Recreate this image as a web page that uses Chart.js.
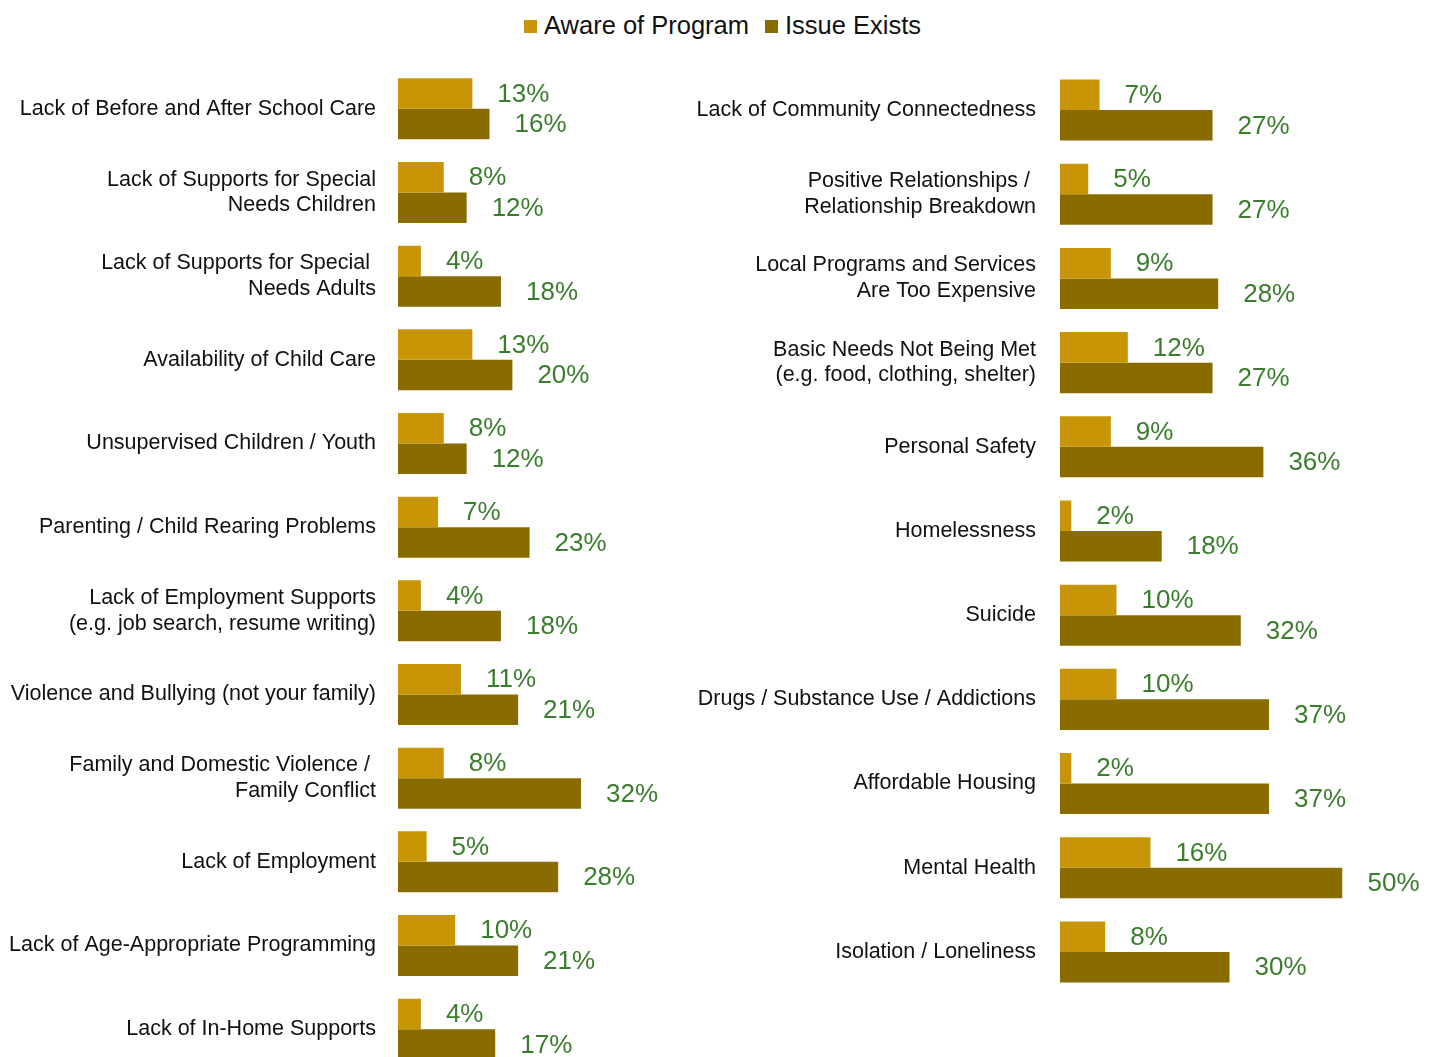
<!DOCTYPE html>
<html>
<head>
<meta charset="utf-8">
<script src="https://cdn.jsdelivr.net/npm/chart.js@4.4.1/dist/chart.umd.min.js"></script>
<style>
  html, body { margin: 0; padding: 0; background: #ffffff; overflow: hidden; width: 1436px; height: 1057px; }
  #legend { position: absolute; top: 9px; left: 0; width: 1436px; height: 34px; font-family: "Liberation Sans", Arial, sans-serif; font-size: 25.5px; color: #111; }
  .lg { position: absolute; top: 0; line-height: 32px; white-space: nowrap; }
  .sw { display: inline-block; width: 13px; height: 13px; margin-right: 7px; vertical-align: 1px; }
  #leftWrap { position: absolute; left: 0; top: 0; }
  #rightWrap { position: absolute; left: 680px; top: 0; }
</style>
</head>
<body>
<div id="legend"></div>
<div id="leftWrap"><canvas id="leftChart" width="680" height="1080"></canvas></div>
<div id="rightWrap"><canvas id="rightChart" width="756" height="1057"></canvas></div>
<script>
const seriesNames = ["Aware of Program", "Issue Exists"];
const seriesColors = ["#C79506", "#896B00"];
const labelColor = "#3A7D2C";

const leftCategories = [
  "Lack of Before and After School Care",
  ["Lack of Supports for Special", "Needs Children"],
  ["Lack of Supports for Special ", "Needs Adults"],
  "Availability of Child Care",
  "Unsupervised Children / Youth",
  "Parenting / Child Rearing Problems",
  ["Lack of Employment Supports", "(e.g. job search, resume writing)"],
  "Violence and Bullying (not your family)",
  ["Family and Domestic Violence / ", "Family Conflict"],
  "Lack of Employment",
  "Lack of Age-Appropriate Programming",
  "Lack of In-Home Supports"
];
const leftAware = [13, 8, 4, 13, 8, 7, 4, 11, 8, 5, 10, 4];
const leftIssue = [16, 12, 18, 20, 12, 23, 18, 21, 32, 28, 21, 17];

const rightCategories = [
  "Lack of Community Connectedness",
  ["Positive Relationships / ", "Relationship Breakdown"],
  ["Local Programs and Services", "Are Too Expensive"],
  ["Basic Needs Not Being Met", "(e.g. food, clothing, shelter)"],
  "Personal Safety",
  "Homelessness",
  "Suicide",
  "Drugs / Substance Use / Addictions",
  "Affordable Housing",
  "Mental Health",
  "Isolation / Loneliness"
];
const rightAware = [7, 5, 9, 12, 9, 2, 10, 10, 2, 16, 8];
const rightIssue = [27, 27, 28, 27, 36, 18, 32, 37, 37, 50, 30];

// HTML legend
(function () {
  const lg = document.getElementById('legend');
  const lefts = [524, 765];
  seriesNames.forEach((n, i) => {
    const d = document.createElement('div');
    d.className = 'lg';
    d.style.left = lefts[i] + 'px';
    d.innerHTML = '<span class="sw" style="background:' + seriesColors[i] + '"></span>' + n;
    lg.appendChild(d);
  });
})();

const valueLabels = {
  id: 'valueLabels',
  afterDatasetsDraw(chart) {
    const ctx = chart.ctx;
    ctx.save();
    ctx.font = '26px "Liberation Sans", Arial, sans-serif';
    ctx.fillStyle = labelColor;
    ctx.textAlign = 'left';
    ctx.textBaseline = 'middle';
    chart.data.datasets.forEach((ds, di) => {
      const meta = chart.getDatasetMeta(di);
      meta.data.forEach((el, i) => {
        ctx.fillText(ds.data[i] + '%', el.x + 25, el.y + 1);
      });
    });
    ctx.restore();
  }
};

function makeChart(id, cats, aware, issue, opts) {
  return new Chart(document.getElementById(id), {
    type: 'bar',
    data: {
      labels: cats,
      datasets: [
        { label: seriesNames[0], data: aware, backgroundColor: seriesColors[0], borderWidth: 0 },
        { label: seriesNames[1], data: issue, backgroundColor: seriesColors[1], borderWidth: 0 }
      ]
    },
    options: {
      indexAxis: 'y',
      responsive: false,
      animation: false,
      devicePixelRatio: 1,
      datasets: { bar: { barPercentage: 1.0, categoryPercentage: opts.catPct } },
      layout: { padding: opts.padding },
      plugins: { legend: { display: false }, tooltip: { enabled: false } },
      scales: {
        x: { display: false, min: 0, max: opts.xMax },
        y: {
          grid: { display: false, drawTicks: false },
          border: { display: false },
          ticks: {
            padding: opts.tickPad,
            color: '#111111',
            font: { family: '"Liberation Sans", Arial, sans-serif', size: 21.5, lineHeight: 1.2 },
            autoSkip: false
          },
          afterFit(scale) {
            scale.width = opts.axisWidth;
            scale.paddingTop = 0;
            scale.paddingBottom = 0;
          }
        }
      }
    },
    plugins: [valueLabels]
  });
}

makeChart('leftChart', leftCategories, leftAware, leftIssue, {
  catPct: 0.73,
  xMax: 45,
  axisWidth: 398,
  tickPad: 22,
  padding: { left: 0, top: 67, bottom: 9, right: 24.6 }
});

makeChart('rightChart', rightCategories, rightAware, rightIssue, {
  catPct: 0.725,
  xMax: 50,
  axisWidth: 380,
  tickPad: 24,
  padding: { left: 0, top: 68, bottom: 63, right: 93.5 }
});
</script>
</body>
</html>
